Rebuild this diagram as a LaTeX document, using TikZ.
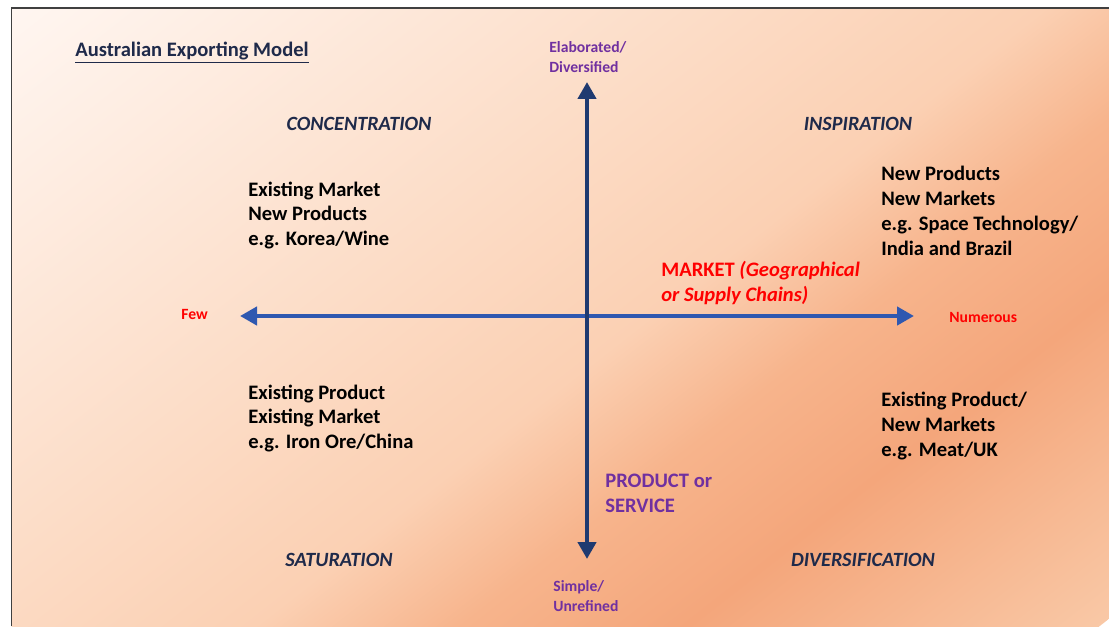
\documentclass[tikz,border=0pt]{standalone}
\usepackage{fontspec}
\setmainfont{Carlito}
\usetikzlibrary{arrows.meta}

\definecolor{peachA}{HTML}{FFF6F1}
\definecolor{peachB}{HTML}{FCDCC6}
\definecolor{peachC}{HTML}{FBD0B3}
\definecolor{peachD}{HTML}{F7B48C}
\definecolor{peachE}{HTML}{F4A67B}
\definecolor{peachF}{HTML}{F9C8A6}
\definecolor{titlenavy}{HTML}{1F2A4A}
\definecolor{vnavy}{HTML}{1F3A70}
\definecolor{hblue}{HTML}{2F58B0}
\definecolor{axpurple}{HTML}{7030A0}
\definecolor{framegray}{HTML}{404040}

% the path box covers the middle half of the shading (25bp to 75bp)
\pgfdeclarehorizontalshading{peachfade}{100bp}{color(0bp)=(peachA); color(25bp)=(peachA); color(44bp)=(peachB); color(52.5bp)=(peachC); color(58bp)=(peachD); color(64bp)=(peachE); color(75bp)=(peachF); color(100bp)=(peachF)}

\begin{document}
\begin{tikzpicture}
%\draw[help lines] (0,0) grid (22,12);
\tikzstyle{quad}=[font=\fontsize{11.5}{14}\selectfont\bfseries\itshape,text=titlenavy,inner sep=0]
\tikzstyle{txt}=[font=\fontsize{11.7}{14.2}\selectfont\bfseries,align=left,anchor=west,inner sep=0]
\tikzstyle{ax}=[font=\fontsize{8.9}{11.4}\selectfont\bfseries,align=left,anchor=west,inner sep=0]
\tikzstyle{axis}=[line width=0.09cm,{Triangle[length=0.34cm,width=0.36cm]}-{Triangle[length=0.34cm,width=0.36cm]}]

\useasboundingbox (0,0) rectangle (22.18,12.52);
% background fades from the top left corner towards the bottom right
\begin{scope}
\clip (0.23,0) rectangle (22.18,12.36);
\begin{scope}[transform canvas={shift={(0.23,12.36)},rotate=-52}]
\shade[shading=peachfade] (0,-30) rectangle (23.14,30);
\end{scope}
\end{scope}
\draw[framegray,line width=0.85pt] (0.23,0) -- (0.23,12.36) -- (22.18,12.36);

\node[txt,text=titlenavy] (title) at (1.5,11.47) {\underline{Australian Exporting Model}};

\node[quad] (conc) at (7.18,10.04) {CONCENTRATION};
\node[quad] (insp) at (17.16,10.04) {INSPIRATION};
\node[quad] (satu) at (6.78,1.32) {SATURATION};
\node[quad] (dive) at (17.26,1.32) {DIVERSIFICATION};

\node[txt] (tl) at (4.96,8.21) {Existing Market\\New Products\\e.g. Korea/Wine};
\node[txt] (tr) at (17.62,8.31) {New Products\\New Markets\\e.g. Space Technology/\\India and Brazil};
\node[txt] (bl) at (4.96,4.15) {Existing Product\\Existing Market\\e.g. Iron Ore/China};
\node[txt] (br) at (17.62,4.00) {Existing Product/\\New Markets\\e.g. Meat/UK};

\node[txt,text=red] (market) at (13.22,6.86) {MARKET \textit{(Geographical}\\\textit{or Supply Chains)}};
\node[txt,text=axpurple] (product) at (12.10,2.66) {PRODUCT or\\SERVICE};

\node[ax,text=axpurple] (elab) at (10.98,11.38) {Elaborated/\\Diversified};
\node[ax,text=axpurple] (simple) at (11.06,0.60) {Simple/\\Unrefined};
\node[ax,text=red] (few) at (3.62,6.24) {Few};
\node[ax,text=red] (num) at (18.98,6.18) {Numerous};

\coordinate (up) at (11.74,10.88);
\coordinate (down) at (11.74,1.34);
\coordinate (left) at (4.80,6.20);
\coordinate (right) at (18.28,6.20);

\draw[axis,hblue] (left) -- (right);
\draw[axis,vnavy] (down) -- (up);
\end{tikzpicture}
\end{document}
